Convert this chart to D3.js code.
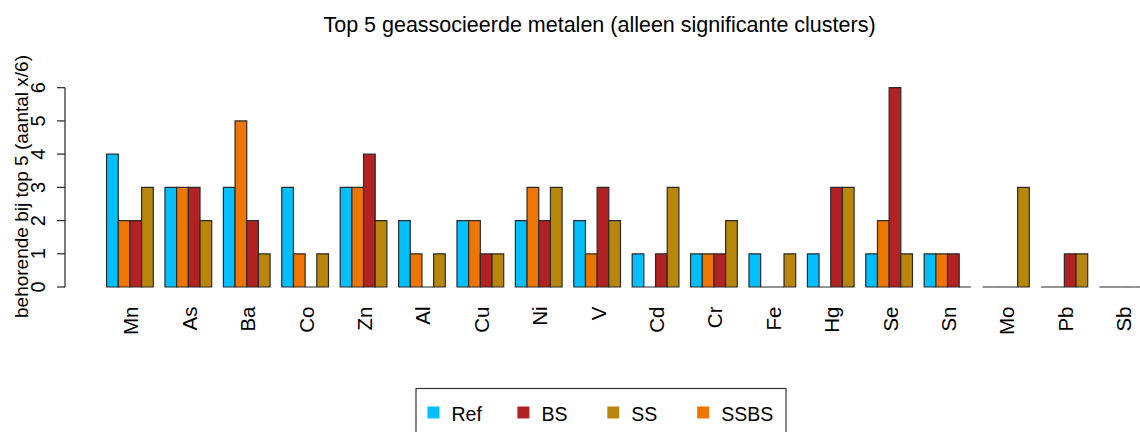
<!DOCTYPE html>
<html>
<head>
<meta charset="utf-8">
<title>Top 5 metalen</title>
<script src="https://d3js.org/d3.v7.min.js"></script>
<style>
body { margin: 0; background: white; font-family: "Liberation Sans", Arial, sans-serif; }
</style>
</head>
<body>
<script>
// metals in plot order
var metals = ["Mn","As","Ba","Co","Zn","Al","Cu","Ni","V","Cd","Cr","Fe","Hg","Se","Sn","Mo","Pb","Sb"];

// counts per series (aantal x/6)
var ref  = [4,3,3,3,3,2,2,2,2,1,1,1,1,1,1,0,0,0];
var ssbs = [2,3,5,1,3,1,2,3,1,0,1,0,0,2,1,0,0,0];
var bs   = [2,3,2,0,4,0,1,2,3,1,1,0,3,6,1,0,1,0];
var ss   = [3,2,1,1,2,1,1,3,2,3,2,1,3,1,0,3,1,0];

var yTicks = [0,1,2,3,4,5,6];

// bar order inside a group vs legend order
var barSeries = [
  {name: "Ref",  values: ref,  color: "#00BFFF"},
  {name: "SSBS", values: ssbs, color: "#EE7600"},
  {name: "BS",   values: bs,   color: "#B22222"},
  {name: "SS",   values: ss,   color: "#B8860B"}
];
var legendOrder = ["Ref","BS","SS","SSBS"];

var width = 1140, height = 432;

var svg = d3.select("body").append("svg")
  .attr("width", width)
  .attr("height", height);

// x in R barplot units: each bar 1 unit, 1 unit gap before each group
var x = d3.scaleLinear().domain([0, 1]).range([94.9, 94.9 + 11.68]);
var y = d3.scaleLinear().domain([0, 6]).range([287, 87.7]);

var bars = [];
metals.forEach(function(m, i) {
  barSeries.forEach(function(s, j) {
    bars.push({metal: m, x0: i * 5 + 1 + j, v: s.values[i], color: s.color});
  });
});

svg.append("g").selectAll("path")
  .data(bars)
  .enter()
  .append("path")
  .attr("d", function(d) {
    var x0 = x(d.x0), x1 = x(d.x0 + 1), y0 = y(0), y1 = y(d.v);
    return "M" + x0 + "," + y0 + "H" + x1 + "V" + y1 + "H" + x0 + "Z";
  })
  .attr("fill", function(d) { return d.color; })
  .attr("stroke", "#2b2b2b")
  .attr("stroke-width", 1.2);

// y axis
var ax = svg.append("g");
ax.append("line")
  .attr("x1", 65).attr("x2", 65)
  .attr("y1", y(0)).attr("y2", y(6))
  .attr("stroke", "#222").attr("stroke-width", 1.2);
ax.selectAll(".tick")
  .data(yTicks)
  .enter()
  .append("line")
  .attr("x1", 57).attr("x2", 65)
  .attr("y1", function(d) { return y(d); })
  .attr("y2", function(d) { return y(d); })
  .attr("stroke", "#222").attr("stroke-width", 1.2);
ax.selectAll("text")
  .data(yTicks)
  .enter()
  .append("text")
  .attr("transform", function(d) { return "translate(45," + y(d) + ") rotate(-90)"; })
  .attr("text-anchor", "middle")
  .attr("font-size", 20)
  .text(function(d) { return d; });

svg.append("text")
  .attr("transform", "translate(28,186.5) rotate(-90)")
  .attr("text-anchor", "middle")
  .attr("font-size", 19)
  .text("behorende bij top 5 (aantal x/6)");

// x labels
svg.append("g").selectAll("text")
  .data(metals)
  .enter()
  .append("text")
  .attr("transform", function(d, i) {
    return "translate(" + (x(i * 5 + 3) + 1) + ",306.5) rotate(-90)";
  })
  .attr("text-anchor", "end")
  .attr("dominant-baseline", "central")
  .attr("font-size", 20.5)
  .text(function(d) { return d; });

// title
svg.append("text")
  .attr("x", 599.5).attr("y", 32)
  .attr("text-anchor", "middle")
  .attr("font-size", 21.5)
  .text("Top 5 geassocieerde metalen (alleen significante clusters)");

// legend
var lg = svg.append("g");
lg.append("rect")
  .attr("x", 416).attr("y", 388.5)
  .attr("width", 370).attr("height", 60)
  .attr("fill", "none")
  .attr("stroke", "#333").attr("stroke-width", 1.2);
var items = lg.selectAll("g.item")
  .data(legendOrder)
  .enter()
  .append("g")
  .attr("transform", function(d, i) { return "translate(" + (427.5 + i * 89.9) + ",0)"; });
items.append("rect")
  .attr("x", 0).attr("y", 406.5)
  .attr("width", 12).attr("height", 12)
  .attr("fill", function(d) {
    return barSeries.find(function(s) { return s.name === d; }).color;
  });
items.append("text")
  .attr("x", 24).attr("y", 421)
  .attr("font-size", 19.5)
  .text(function(d) { return d; });
</script>
</body>
</html>
